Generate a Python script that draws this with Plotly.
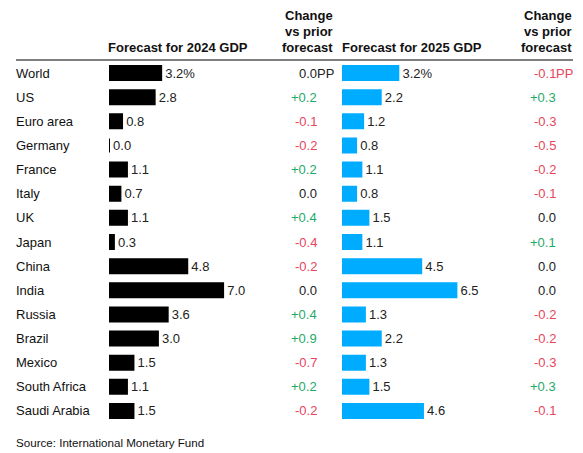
import plotly.graph_objects as go

countries = ["World", "US", "Euro area", "Germany", "France", "Italy", "UK", "Japan",
             "China", "India", "Russia", "Brazil", "Mexico", "South Africa", "Saudi Arabia"]
gdp2024 = [3.2, 2.8, 0.8, 0.0, 1.1, 0.7, 1.1, 0.3, 4.8, 7.0, 3.6, 3.0, 1.5, 1.1, 1.5]
chg2024 = [0.0, 0.2, -0.1, -0.2, 0.2, 0.0, 0.4, -0.4, -0.2, 0.0, 0.4, 0.9, -0.7, 0.2, -0.2]
gdp2025 = [3.2, 2.2, 1.2, 0.8, 1.1, 0.8, 1.5, 1.1, 4.5, 6.5, 1.3, 2.2, 1.3, 1.5, 4.6]
chg2025 = [-0.1, 0.3, -0.3, -0.5, -0.2, -0.1, 0.0, 0.1, 0.0, 0.0, -0.2, -0.2, -0.3, 0.3, -0.1]

# the page body has an 8px margin, so the figure is sized to fill the rest of the window
OFF = 8
W, H = 583 - OFF, 453 - OFF
FONT = "Liberation Sans, Arial, Helvetica, sans-serif"
GREEN = "#1fa968"
RED = "#e8455c"
NEUTRAL = "#222222"
BLUE = "#00acff"


def px(x):
    return (x - OFF) / W


def py(y):
    return 1 - (y - OFF) / H


def bar_labels(vals):
    return [f"{v:.1f}%" if i == 0 else f"{v:.1f}" for i, v in enumerate(vals)]


def chg_text(v):
    return "0.0" if v == 0 else f"{v:+.1f}"


def chg_color(v):
    return NEUTRAL if v == 0 else (GREEN if v > 0 else RED)


fig = go.Figure()
fig.add_trace(go.Bar(
    x=gdp2024, y=countries, orientation="h", xaxis="x", yaxis="y",
    marker=dict(color="#000000", line=dict(color="#000000", width=2)), width=0.58,
    text=bar_labels(gdp2024), texttemplate="\u200a%{text}", textposition="outside",
    constraintext="none", cliponaxis=False,
    textfont=dict(size=13, color=NEUTRAL, family=FONT), hoverinfo="skip"))
fig.add_trace(go.Bar(
    x=gdp2025, y=countries, orientation="h", xaxis="x2", yaxis="y",
    marker=dict(color=BLUE, line=dict(color=BLUE, width=2)), width=0.58,
    text=bar_labels(gdp2025), texttemplate="\u200a%{text}", textposition="outside",
    constraintext="none", cliponaxis=False,
    textfont=dict(size=13, color=NEUTRAL, family=FONT), hoverinfo="skip"))

ann = []
# country labels
for c in countries:
    ann.append(dict(x=px(16), y=c, xref="paper", yref="y", text=c, xanchor="left",
                    yanchor="middle", showarrow=False, borderpad=0, borderwidth=0,
                    font=dict(size=13, color="#111111", family=FONT)))
# change columns
for i, c in enumerate(countries):
    for vals, xr in ((chg2024, 317), (chg2025, 556)):
        v = vals[i]
        ann.append(dict(x=px(xr), y=c, xref="paper", yref="y", text=chg_text(v),
                        xanchor="right", yanchor="middle", showarrow=False,
                        borderpad=0, borderwidth=0,
                        font=dict(size=13, color=chg_color(v), family=FONT)))
        if i == 0:
            ann.append(dict(x=px(xr), y=c, xref="paper", yref="y", text="PP",
                            xanchor="left", yanchor="middle", showarrow=False,
                            borderpad=0, borderwidth=0,
                            font=dict(size=13, color=chg_color(v), family=FONT)))

# headers
hfont = dict(size=13, color="#111111", family=FONT)
ann.append(dict(x=px(108), y=py(47), xref="paper", yref="paper", text="<b>Forecast for 2024 GDP</b>",
                xanchor="left", yanchor="middle", showarrow=False, borderpad=0, borderwidth=0,
                font=hfont))
ann.append(dict(x=px(342), y=py(47), xref="paper", yref="paper", text="<b>Forecast for 2025 GDP</b>",
                xanchor="left", yanchor="middle", showarrow=False, borderpad=0, borderwidth=0,
                font=hfont))
for xr in (333, 572):
    for txt, yy in (("Change", 16), ("vs prior", 31.5), ("forecast", 47)):
        ann.append(dict(x=px(xr), y=py(yy), xref="paper", yref="paper", text=f"<b>{txt}</b>",
                        xanchor="right", yanchor="middle", showarrow=False,
                        borderpad=0, borderwidth=0, font=hfont))

ann.append(dict(x=px(16), y=py(442), xref="paper", yref="paper",
                text="Source: International Monetary Fund", xanchor="left", yanchor="middle",
                showarrow=False, borderpad=0, borderwidth=0,
                font=dict(size=11.6, color="#111111", family=FONT)))

fig.update_layout(
    width=W, height=H, margin=dict(l=0, r=0, t=0, b=0),
    paper_bgcolor="white", plot_bgcolor="white", showlegend=False,
    font=dict(family=FONT),
    xaxis=dict(domain=[px(109), px(275)], range=[0, (275 - 109) / 16.3], visible=False,
               fixedrange=True),
    xaxis2=dict(domain=[px(342), px(520)], range=[0, (520 - 342) / 17.6], visible=False,
                fixedrange=True, anchor="y"),
    yaxis=dict(domain=[py(423), py(61)], type="category", categoryorder="array",
               categoryarray=countries, range=[14.5, -0.5], visible=False, fixedrange=True),
    annotations=ann,
    shapes=[dict(type="line", xref="paper", yref="paper", x0=px(16), x1=px(573),
                 y0=py(60), y1=py(60), line=dict(color="#000000", width=1.2))],
)

fig.write_html("out.html")
